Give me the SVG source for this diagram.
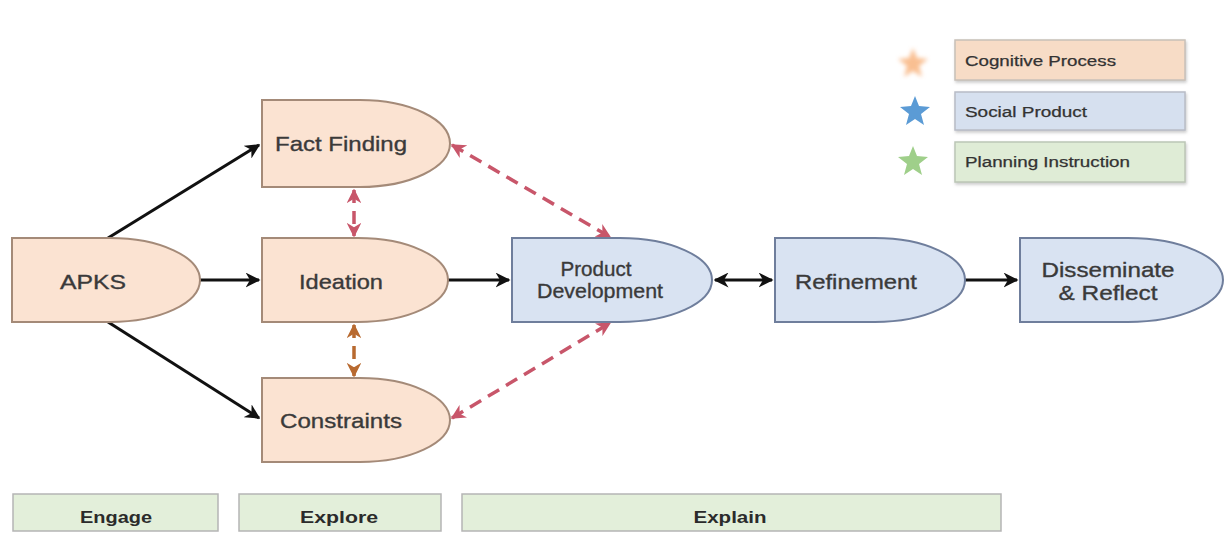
<svg xmlns="http://www.w3.org/2000/svg" width="1226" height="533" viewBox="0 0 1226 533">
<style>
.cog{fill:#fbe3d2;stroke:#a48a78;stroke-width:2}
.soc{fill:#d9e3f2;stroke:#6f7e9c;stroke-width:2}
.t{font-family:"Liberation Sans",Arial,sans-serif;font-size:21px;fill:#3a3a3a;stroke:#3a3a3a;stroke-width:0.35;text-anchor:middle}
.lg{font-family:"Liberation Sans",Arial,sans-serif;font-size:14px;fill:#333;stroke:#333;stroke-width:0.25}
.ph{font-family:"Liberation Sans Narrow","Liberation Sans",Arial,sans-serif;font-size:17px;font-weight:bold;fill:#2b2b2b;text-anchor:middle}
.blk{stroke:#111;stroke-width:3;fill:none}
.red{stroke:#c8566a;stroke-width:3.5;fill:none;stroke-dasharray:13 8}
.brn{stroke:#b86a30;stroke-width:3.5;fill:none;stroke-dasharray:13 8}
.phase{fill:#e3efda;stroke:#b5b5b5;stroke-width:1.5}
</style>
<defs>
<marker id="ab" viewBox="0 0 10 10" refX="9" refY="5" markerWidth="5" markerHeight="5" orient="auto-start-reverse"><path d="M0,0 L10,5 L0,10 L3,5 z" fill="#111"/></marker>
<marker id="ar" viewBox="0 0 10 10" refX="9" refY="5" markerWidth="4.2" markerHeight="4.2" orient="auto-start-reverse"><path d="M0,0 L10,5 L0,10 L3,5 z" fill="#c8566a"/></marker>
<marker id="an" viewBox="0 0 10 10" refX="9" refY="5" markerWidth="4.2" markerHeight="4.2" orient="auto-start-reverse"><path d="M0,0 L10,5 L0,10 L3,5 z" fill="#b86a30"/></marker>
<filter id="sh" x="-5%" y="-10%" width="110%" height="130%"><feDropShadow dx="1" dy="2" stdDeviation="1.5" flood-color="#999" flood-opacity="0.5"/></filter>
<filter id="bl"><feGaussianBlur stdDeviation="2"/></filter>
</defs>

<g id="legend">
<polygon points="913,48 917,58 928,59 919,66 922,77 913,71 904,77 907,66 898,59 909,58" fill="#f9bf92" filter="url(#bl)"/>
<polygon points="915,96 919,106 930,107 921,114 924,125 915,119 906,125 909,114 900,107 911,106" fill="#5b9bd5"/>
<polygon points="913,146 917,156 928,157 919,164 922,175 913,169 904,175 907,164 898,157 909,156" fill="#9fcf8a"/>
<rect x="955" y="40" width="230" height="40" fill="#f7dcc6" stroke="#c8c0b8" stroke-width="1.5" filter="url(#sh)"/>
<rect x="955" y="92" width="230" height="38" fill="#d6e0ef" stroke="#b8bcc6" stroke-width="1.5" filter="url(#sh)"/>
<rect x="955" y="142" width="230" height="40" fill="#dfecd6" stroke="#bcc6b6" stroke-width="1.5" filter="url(#sh)"/>
<text class="lg" x="965" y="66" textLength="151" lengthAdjust="spacingAndGlyphs">Cognitive Process</text>
<text class="lg" x="965" y="117" textLength="122" lengthAdjust="spacingAndGlyphs">Social Product</text>
<text class="lg" x="965" y="167" textLength="165" lengthAdjust="spacingAndGlyphs">Planning Instruction</text>
</g>

<g id="connectors">
<line class="blk" x1="108" y1="238" x2="259" y2="145" marker-end="url(#ab)"/>
<line class="blk" x1="108" y1="322" x2="259" y2="418" marker-end="url(#ab)"/>
<line class="blk" x1="200" y1="280" x2="259" y2="280" marker-end="url(#ab)"/>
<line class="blk" x1="448" y1="280" x2="509" y2="280" marker-end="url(#ab)"/>
<line class="blk" x1="715" y1="280" x2="772" y2="280" marker-start="url(#ab)" marker-end="url(#ab)"/>
<line class="blk" x1="965" y1="280" x2="1017" y2="280" marker-end="url(#ab)"/>
<line class="red" x1="354" y1="190" x2="354" y2="236" marker-start="url(#ar)" marker-end="url(#ar)"/>
<line class="brn" x1="354" y1="325" x2="354" y2="376" marker-start="url(#an)" marker-end="url(#an)"/>
<line class="red" x1="452" y1="145" x2="610" y2="237" marker-start="url(#ar)" marker-end="url(#ar)"/>
<line class="red" x1="452" y1="418" x2="610" y2="323" marker-start="url(#ar)" marker-end="url(#ar)"/>
</g>

<g id="apks"><path class="cog" d="M12,238 H110 A90,42 0 0 1 110,322 H12 Z"/><text class="t" x="93" y="289" textLength="66" lengthAdjust="spacingAndGlyphs">APKS</text></g>
<g id="fact-finding"><path class="cog" d="M262,100 H360 A90,43.5 0 0 1 360,187 H262 Z"/><text class="t" x="341" y="151" textLength="132" lengthAdjust="spacingAndGlyphs">Fact Finding</text></g>
<g id="ideation"><path class="cog" d="M262,238 H358 A90,42 0 0 1 358,322 H262 Z"/><text class="t" x="341" y="289" textLength="84" lengthAdjust="spacingAndGlyphs">Ideation</text></g>
<g id="constraints"><path class="cog" d="M262,378 H360 A90,42 0 0 1 360,462 H262 Z"/><text class="t" x="341" y="428" textLength="122" lengthAdjust="spacingAndGlyphs">Constraints</text></g>
<g id="product-development"><path class="soc" d="M512,238 H620 A92,42 0 0 1 620,322 H512 Z"/><text class="t" x="596" y="276" textLength="71" lengthAdjust="spacingAndGlyphs">Product</text><text class="t" x="600" y="298" textLength="126" lengthAdjust="spacingAndGlyphs">Development</text></g>
<g id="refinement"><path class="soc" d="M775,238 H875 A90,42 0 0 1 875,322 H775 Z"/><text class="t" x="856" y="289" textLength="122" lengthAdjust="spacingAndGlyphs">Refinement</text></g>
<g id="disseminate"><path class="soc" d="M1020,238 H1128 A95,42 0 0 1 1128,322 H1020 Z"/><text class="t" x="1108" y="277" textLength="133" lengthAdjust="spacingAndGlyphs">Disseminate</text><text class="t" x="1108" y="300" textLength="99" lengthAdjust="spacingAndGlyphs">&amp; Reflect</text></g>

<g id="phases">
<rect class="phase" x="13" y="494" width="205" height="37"/>
<rect class="phase" x="239" y="494" width="202" height="37"/>
<rect class="phase" x="462" y="494" width="539" height="37"/>
<text class="ph" x="116" y="523" textLength="72" lengthAdjust="spacingAndGlyphs">Engage</text>
<text class="ph" x="339" y="523" textLength="78" lengthAdjust="spacingAndGlyphs">Explore</text>
<text class="ph" x="730" y="523" textLength="73" lengthAdjust="spacingAndGlyphs">Explain</text>
</g>
</svg>
